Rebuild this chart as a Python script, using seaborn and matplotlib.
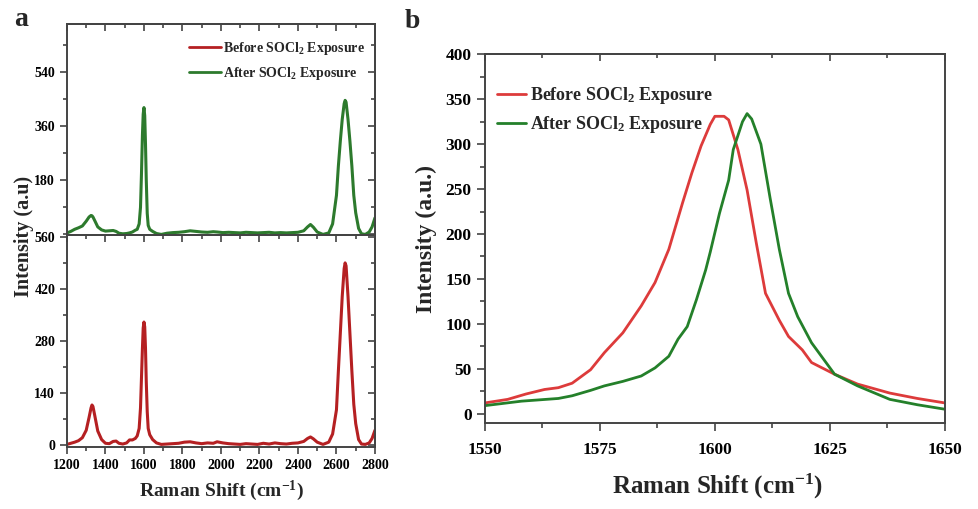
import matplotlib
matplotlib.use("Agg")
import matplotlib.pyplot as plt
import seaborn as sns
from matplotlib.lines import Line2D
from matplotlib.ticker import MultipleLocator, FixedLocator

# ---------------- data ----------------
# panel a: full Raman spectra
shift_a = [1200, 1220, 1240, 1260, 1280, 1300, 1315, 1325, 1330, 1335,
           1345, 1360, 1380, 1400, 1420, 1440, 1455, 1470, 1490, 1510,
           1525, 1540, 1555, 1565, 1575, 1582, 1587, 1592, 1596, 1600,
           1604, 1608, 1612, 1617, 1622, 1630, 1645, 1665, 1690, 1720,
           1750, 1780, 1810, 1840, 1870, 1900, 1930, 1960, 1980, 2010,
           2040, 2070, 2100, 2130, 2160, 2190, 2220, 2250, 2280, 2310,
           2340, 2370, 2400, 2430, 2450, 2465, 2480, 2500, 2530, 2560,
           2580, 2600, 2610, 2620, 2630, 2640, 2645, 2650, 2660, 2670,
           2680, 2690, 2700, 2715, 2730, 2750, 2770, 2785, 2800]
before_a = [2, 5, 8, 12, 20, 40, 75, 100, 108, 104,
            78, 38, 15, 5, 4, 10, 11, 5, 3, 6,
            14, 14, 18, 25, 45, 100, 180, 260, 315, 331,
            318, 260, 170, 90, 45, 28, 15, 6, 2, 3,
            4, 5, 8, 9, 6, 4, 6, 5, 9, 6,
            4, 3, 2, 4, 3, 2, 5, 3, 6, 4,
            3, 5, 6, 10, 18, 22, 17, 8, 2, 8,
            30, 95, 200, 300, 400, 475, 490, 482, 400, 300,
            200, 110, 58, 15, 3, 2, 6, 18, 40]
after_a = [5, 10, 17, 22, 28, 44, 58, 63, 62, 58,
           45, 25, 15, 11, 12, 13, 10, 4, 2, 3,
           5, 8, 14, 17, 35, 90, 200, 330, 400, 422,
           395, 300, 180, 70, 30, 17, 10, 3, 0, 4,
           6, 7, 9, 12, 10, 8, 7, 9, 8, 6,
           7, 6, 5, 7, 6, 5, 6, 7, 5, 6,
           5, 6, 7, 12, 25, 33, 24, 8, 0, 5,
           35, 130, 228, 310, 383, 435, 446, 440, 383, 310,
           228, 130, 72, 20, 2, 0, 8, 25, 55]

# panel b: zoom on the G band
shift_b_before = [1550, 1555, 1559, 1563, 1566, 1569, 1573, 1576, 1580, 1584,
                  1587, 1590, 1593, 1595, 1597, 1599, 1600, 1602, 1603, 1605, 1607,
                  1609, 1611, 1614, 1616, 1619, 1621, 1626, 1631, 1638, 1644, 1650]
before_b = [12, 16, 22, 27, 29, 34, 49, 68, 90, 120,
            146, 183, 235, 268, 298, 322, 331, 331, 327, 294, 249,
            190, 134, 104, 86, 71, 57, 44, 33, 23, 17, 12]
shift_b_after = [1550, 1558, 1566, 1569, 1573, 1576, 1580, 1584, 1587, 1590,
                 1592, 1594, 1596, 1598, 1599, 1601, 1603, 1604, 1606, 1607,
                 1608, 1610, 1612, 1614, 1616, 1618, 1621, 1626, 1631, 1638, 1644, 1650]
after_b = [9, 14, 17, 20, 26, 31, 36, 42, 51, 64,
           83, 97, 127, 160, 180, 223, 260, 294, 325, 334,
           328, 300, 240, 183, 134, 108, 79, 44, 31, 16, 10, 5]

label_before = "Before SOCl$_2$ Exposure"
label_after = "After SOCl$_2$ Exposure"

RED_A, GREEN_A = "#b52022", "#2d7a2d"
RED_B, GREEN_B = "#dd3b3b", "#24802a"

# ---------------- style ----------------
sns.set_theme(style="ticks")
plt.rcParams['font.family'] = ['Liberation Serif', 'DejaVu Serif']
plt.rcParams['font.weight'] = 'bold'
plt.rcParams['axes.labelweight'] = 'bold'
plt.rcParams['mathtext.fontset'] = 'custom'
plt.rcParams['mathtext.rm'] = 'Liberation Serif:bold'
plt.rcParams['mathtext.bf'] = 'Liberation Serif:bold'
plt.rcParams['mathtext.it'] = 'Liberation Serif:bold'
plt.rcParams['mathtext.default'] = 'rm'
plt.rcParams['axes.edgecolor'] = '#444444'
plt.rcParams['axes.linewidth'] = 1.4
plt.rcParams['xtick.color'] = '#444444'
plt.rcParams['ytick.color'] = '#444444'
plt.rcParams['xtick.labelcolor'] = 'black'
plt.rcParams['ytick.labelcolor'] = 'black'

fig = plt.figure(figsize=(9.79, 5.09), dpi=100)
ax_top = fig.add_axes([0.0684, 0.5383, 0.3146, 0.4145])
ax_bot = fig.add_axes([0.0684, 0.1218, 0.3146, 0.4165])
ax_b = fig.add_axes([0.4951, 0.1695, 0.4702, 0.7238])


def inner_ticks(ax, xmaj, xmin, ymaj=None, ymin=None):
    # top (and right) ticks point inward, like the original Origin plot
    top = ax.secondary_xaxis('top')
    top.xaxis.set_major_locator(MultipleLocator(xmaj))
    top.xaxis.set_minor_locator(MultipleLocator(xmin))
    top.tick_params(which='both', direction='in', labeltop=False, width=1.2)
    top.tick_params(which='major', length=5)
    top.tick_params(which='minor', length=3)
    if ymaj is not None:
        right = ax.secondary_yaxis('right')
        right.yaxis.set_major_locator(MultipleLocator(ymaj))
        right.yaxis.set_minor_locator(MultipleLocator(ymin))
        right.tick_params(which='both', direction='in', labelright=False, width=1.2)
        right.tick_params(which='major', length=5)
        right.tick_params(which='minor', length=3)


# ---------------- panel a ----------------
sns.lineplot(x=shift_a, y=after_a, ax=ax_top, color=GREEN_A, lw=2.2, legend=False)
sns.lineplot(x=shift_a, y=before_a, ax=ax_bot, color=RED_A, lw=2.2, legend=False)

ax_top.set_xlim(1200, 2800)
ax_top.set_ylim(-2, 700)
ax_top.yaxis.set_major_locator(FixedLocator([180, 360, 540]))
ax_top.yaxis.set_minor_locator(MultipleLocator(90))

ax_bot.set_xlim(1200, 2800)
ax_bot.set_ylim(-5, 565)
ax_bot.yaxis.set_major_locator(MultipleLocator(140))
ax_bot.yaxis.set_minor_locator(MultipleLocator(70))

for ax, ystep in ((ax_top, 180), (ax_bot, 140)):
    ax.xaxis.set_major_locator(MultipleLocator(200))
    ax.xaxis.set_minor_locator(MultipleLocator(100))
    ax.tick_params(which='both', direction='out', labelsize=10, width=1.2)
    ax.tick_params(which='major', length=5)
    ax.tick_params(which='minor', length=3)
    ax.set_xlabel("")
    ax.set_ylabel("")
    inner_ticks(ax, 200, 100, ystep, ystep / 2)
ax_top.tick_params(axis='x', labelbottom=False)

ax_bot.set_xlabel("Raman Shift (cm$^{-1}$)", fontsize=14, labelpad=5)
fig.text(0.025, 0.535, "Intensity (a.u)", rotation=90, fontsize=14.5,
         ha='center', va='center')

handles = [Line2D([], [], color=RED_A, lw=2), Line2D([], [], color=GREEN_A, lw=2)]
ax_top.legend(handles, [label_before, label_after], loc='upper right',
              bbox_to_anchor=(1.0, 0.97), frameon=False, fontsize=10,
              handlelength=2.3, handletextpad=0.2, labelspacing=0.55,
              borderaxespad=0.3)

# ---------------- panel b ----------------
sns.lineplot(x=shift_b_before, y=before_b, ax=ax_b, color=RED_B, lw=2,
             label=label_before)
sns.lineplot(x=shift_b_after, y=after_b, ax=ax_b, color=GREEN_B, lw=2,
             label=label_after)
ax_b.set_xlim(1550, 1650)
ax_b.set_ylim(-10, 400)
ax_b.xaxis.set_major_locator(MultipleLocator(25))
ax_b.xaxis.set_minor_locator(MultipleLocator(12.5))
ax_b.yaxis.set_major_locator(MultipleLocator(50))
ax_b.yaxis.set_minor_locator(MultipleLocator(25))
ax_b.tick_params(which='both', direction='out', labelsize=12.5, width=1.2)
ax_b.tick_params(which='major', length=6)
ax_b.tick_params(which='minor', length=3.5)
ax_b.tick_params(axis='x', pad=8)
inner_ticks(ax_b, 25, 12.5)
ax_b.set_xlabel("")
ax_b.set_ylabel("")
ax_b.legend(loc='upper left', bbox_to_anchor=(0.0, 0.95), frameon=False,
            fontsize=13, handlelength=1.6, handletextpad=0.2, labelspacing=0.45,
            borderaxespad=0.3)

fig.text(0.733, 0.045, "Raman Shift (cm$^{-1}$)", fontsize=18, ha='center', va='center')
fig.text(0.436, 0.53, "Intensity (a.u.)", rotation=90, fontsize=17,
         ha='center', va='center')

# panel letters
fig.text(0.022, 0.962, "a", fontsize=20, ha='center', va='center')
fig.text(0.421, 0.958, "b", fontsize=20, ha='center', va='center')

fig.savefig("out.png", dpi=100)
plt.close(fig)
